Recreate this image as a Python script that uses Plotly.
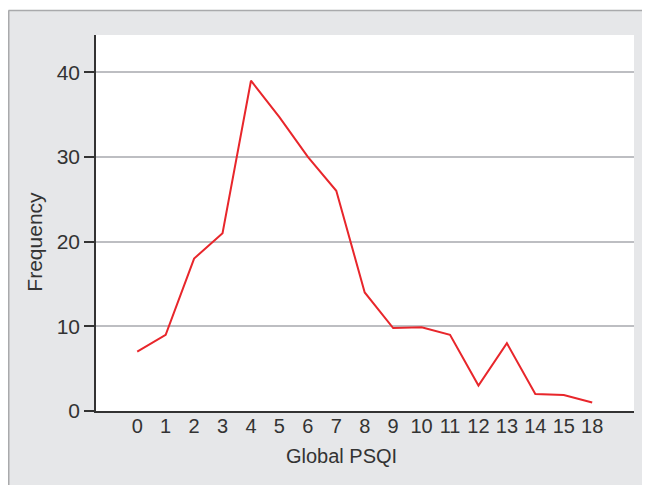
import plotly.graph_objects as go

categories = ["0", "1", "2", "3", "4", "5", "6", "7", "8", "9", "10", "11", "12", "13", "14", "15", "18"]
frequency = [7, 9, 18, 21, 39, 34.7, 30, 26, 14, 9.8, 9.9, 9, 3, 8, 2, 1.9, 1]

idx = list(range(len(categories)))

# page body has an 8px margin, so the figure is offset by 8px
OFF = 8
W, H = 650 - OFF, 485 - OFF
L, R, T = 96 - OFF, 16, 35 - OFF
B = H - (411 - OFF)
pw, ph = W - L - R, H - T - B

def px_x(p):
    return (p - OFF - L) / pw

def px_y(p):
    return (H - B - (p - OFF)) / ph

text_col = "#333333"
fam = "Liberation Sans, Arial, sans-serif"
font_y = dict(family=fam, size=21, color=text_col)
font_x = dict(family=fam, size=20, color=text_col)

fig = go.Figure()
fig.add_trace(go.Scatter(
    x=idx, y=frequency, mode="lines",
    line=dict(color="#e8262b", width=2),
    showlegend=False, hoverinfo="skip",
))

border = "#a9aaac"
fig.update_layout(
    width=W, height=H,
    margin=dict(l=L, r=R, t=T, b=B, pad=0),
    paper_bgcolor="#e6e7e9",
    plot_bgcolor="white",
    font=font_y,
    shapes=[
        dict(type="rect", xref="paper", yref="paper", layer="below",
             x0=px_x(0), x1=px_x(700), y0=px_y(10), y1=px_y(0),
             fillcolor="white", line=dict(width=0)),
        dict(type="line", xref="paper", yref="paper", layer="below",
             x0=px_x(8.5), x1=px_x(700), y0=px_y(10.5), y1=px_y(10.5),
             line=dict(color=border, width=1.5)),
        dict(type="line", xref="paper", yref="paper", layer="below",
             x0=px_x(8.75), x1=px_x(8.75), y0=px_y(10.5), y1=px_y(500),
             line=dict(color=border, width=1.5)),
    ],
    xaxis=dict(
        range=[-1.45, 17.47],
        tickmode="array", tickvals=idx, ticktext=categories,
        showgrid=False, zeroline=False,
        showline=True, linecolor="#333333", linewidth=1.5,
        ticks="", ticklabelstandoff=-4,
        tickfont=font_x,
    ),
    yaxis=dict(
        range=[0, 44.4],
        tickmode="array", tickvals=[0, 10, 20, 30, 40],
        showgrid=True, gridcolor="#bdbec2", gridwidth=1.5,
        zeroline=False,
        showline=True, linecolor="#333333", linewidth=1.5,
        ticks="outside", ticklen=10, tickcolor="#333333", tickwidth=1.5,
        tickfont=font_y,
    ),
    annotations=[
        dict(text="Frequency", xref="paper", yref="y", x=px_x(35), y=20,
             textangle=-90, showarrow=False, font=font_y,
             xanchor="center", yanchor="middle"),
        dict(text="Global PSQI", xref="paper", yref="paper", x=px_x(341), y=px_y(456),
             showarrow=False, font=font_x, xanchor="center", yanchor="middle"),
    ],
)

fig.write_html("out.html")
